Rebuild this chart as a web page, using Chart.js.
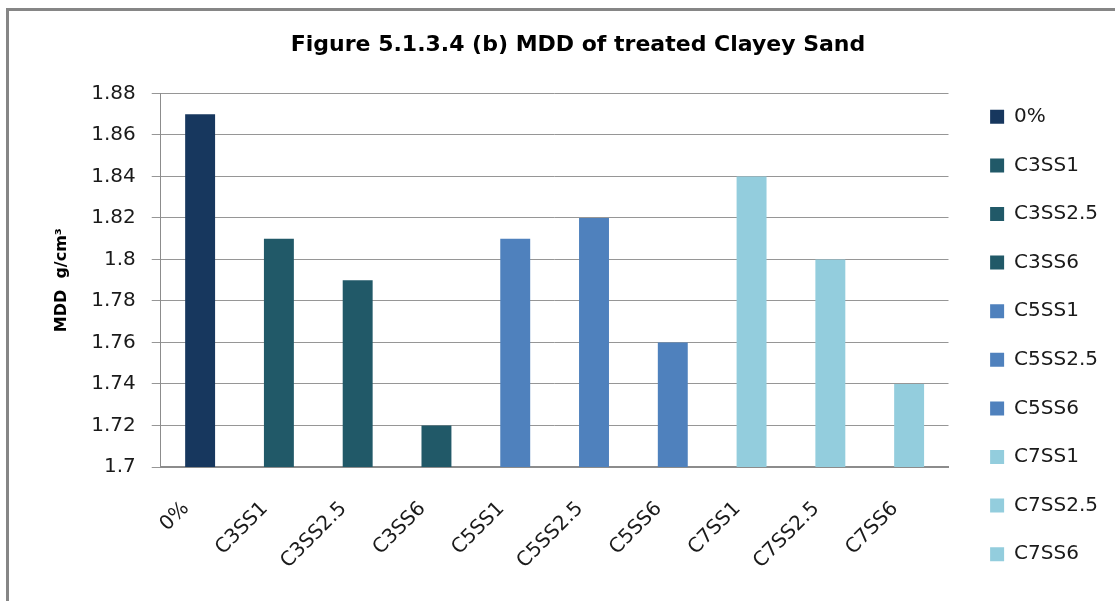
<!DOCTYPE html>
<html>
<head>
<meta charset="utf-8">
<script src="https://cdn.jsdelivr.net/npm/chart.js@4"></script>
<style>
  html, body { margin: 0; padding: 0; background: #fff; overflow: hidden; }
  #frame {
    position: absolute; left: 6px; top: 8px; width: 1200px; height: 700px;
    border-left: 3px solid #868686; border-top: 3px solid #868686;
  }
  #wrap { position: absolute; left: 0; top: 0; width: 1115px; height: 601px; }
</style>
</head>
<body>
<div id="frame"></div>
<div id="wrap"><canvas id="mddChart"></canvas></div>
<script>
// MDD of treated clayey sand
const categories = ['0%', 'C3SS1', 'C3SS2.5', 'C3SS6', 'C5SS1', 'C5SS2.5', 'C5SS6', 'C7SS1', 'C7SS2.5', 'C7SS6'];
const mddValues = [1.87, 1.81, 1.79, 1.72, 1.81, 1.82, 1.76, 1.84, 1.80, 1.74];
const barColors = ['#17375E', '#215968', '#215968', '#215968', '#4F81BD', '#4F81BD', '#4F81BD', '#93CDDD', '#93CDDD', '#93CDDD'];
const yMin = 1.7;
const yMax = 1.88;
const yStep = 0.02;

Chart.defaults.font.family = "'DejaVu Sans', sans-serif";
Chart.defaults.color = '#1a1a1a';

// one dataset per category so each bar gets its own legend entry
const datasets = categories.map((name, i) => ({
  label: name,
  data: categories.map((_, j) => (j === i ? mddValues[i] : null)),
  backgroundColor: barColors[i],
  borderWidth: 0,
  grouped: false,
  categoryPercentage: 1,
  barPercentage: 0.38
}));

new Chart(document.getElementById('mddChart'), {
  type: 'bar',
  data: { labels: categories, datasets },
  options: {
    responsive: true,
    maintainAspectRatio: false,
    animation: false,
    layout: { padding: { left: 48, right: 7, top: 0, bottom: 0 } },
    plugins: {
      title: {
        display: true,
        text: 'Figure 5.1.3.4 (b) MDD of treated Clayey Sand',
        color: '#000',
        font: { size: 22, weight: 'bold' },
        padding: { top: 32, bottom: 35 }
      },
      legend: {
        position: 'right',
        // empty title just pushes the entries down a bit
        title: { display: true, text: ' ', font: { size: 10 }, padding: { top: 58, bottom: 0 } },
        labels: {
          boxWidth: 14,
          boxHeight: 14,
          padding: 28.6,
          font: { size: 20 }
        }
      },
      tooltip: { enabled: false }
    },
    scales: {
      x: {
        grid: { display: false, drawTicks: false },
        border: { display: true, color: '#8c8c8c', width: 2 },
        ticks: { font: { size: 20 }, minRotation: 45, maxRotation: 45, padding: 30, labelOffset: -14 },
        afterFit: s => { s.height = 134; }
      },
      y: {
        min: yMin,
        max: yMax,
        grid: { color: '#969696', lineWidth: 1, tickLength: 9 },
        border: { display: true, color: '#8c8c8c', width: 1 },
        ticks: {
          stepSize: yStep,
          padding: 16,
          font: { size: 20 },
          callback: v => String(Number(v.toFixed(2)))
        },
        title: {
          display: true,
          text: 'MDD  g/cm³',
          color: '#000',
          font: { size: 16, weight: 'bold' },
          padding: { top: 4, bottom: 4 }
        }
      },
      gap: {
        type: 'linear',
        position: 'right',
        display: true,
        grid: { display: false },
        border: { display: false },
        ticks: { display: false },
        afterFit: s => { s.width = 13; }
      }
    }
  }
});
</script>
</body>
</html>
